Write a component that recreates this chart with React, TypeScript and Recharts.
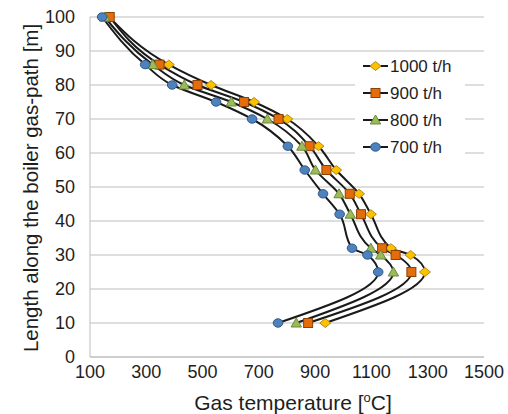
import React from 'react';
import { LineChart, Line, XAxis, YAxis, CartesianGrid, Legend, Label } from 'recharts';

const lengths = [100, 86, 80, 75, 70, 62, 55, 48, 42, 32, 30, 25, 10];
const temp1000 = [168, 380, 530, 683, 801, 912, 975, 1056, 1098, 1169, 1239, 1290, 936];
const temp900 = [170, 347, 482, 647, 770, 880, 940, 1023, 1063, 1138, 1186, 1242, 875];
const temp800 = [152, 323, 435, 602, 730, 853, 901, 985, 1025, 1098, 1133, 1178, 833];
const temp700 = [143, 296, 392, 548, 676, 803, 863, 928, 987, 1031, 1086, 1124, 768];

const xTicks = [100, 300, 500, 700, 900, 1100, 1300, 1500];
const yTicks = [0, 10, 20, 30, 40, 50, 60, 70, 80, 90, 100];

const FONT = '"Liberation Sans", Arial, sans-serif';
const TEXT = '#1e1e1e';
const GRID = '#bdbdbd';
const LINE = '#1a1a1a';

type Shape = 'diamond' | 'square' | 'triangle' | 'circle';

const series: { key: string; name: string; shape: Shape; fill: string; stroke: string }[] = [
  { key: 't1000', name: '1000 t/h', shape: 'diamond', fill: '#FFC000', stroke: '#B08A10' },
  { key: 't900', name: '900 t/h', shape: 'square', fill: '#E46C0A', stroke: '#8A4206' },
  { key: 't800', name: '800 t/h', shape: 'triangle', fill: '#9BBB59', stroke: '#6A8A3A' },
  { key: 't700', name: '700 t/h', shape: 'circle', fill: '#4F81BD', stroke: '#2F5A8E' },
];

const rows = lengths.map((y, i) => ({
  y,
  t1000: temp1000[i],
  t900: temp900[i],
  t800: temp800[i],
  t700: temp700[i],
}));

function Marker({ cx, cy, shape, fill, stroke }: { cx?: number; cy?: number; shape: Shape; fill: string; stroke: string }) {
  if (cx == null || cy == null) return null;
  const common = { fill, stroke, strokeWidth: 1 };
  switch (shape) {
    case 'diamond':
      return <polygon points={`${cx},${cy - 4.5} ${cx + 5.5},${cy} ${cx},${cy + 4.5} ${cx - 5.5},${cy}`} {...common} />;
    case 'square':
      return <rect x={cx - 4.5} y={cy - 4.5} width={9} height={9} {...common} />;
    case 'triangle':
      return <polygon points={`${cx},${cy - 5} ${cx + 5.2},${cy + 4} ${cx - 5.2},${cy + 4}`} {...common} />;
    default:
      return <ellipse cx={cx} cy={cy} rx={4.8} ry={4.2} {...common} />;
  }
}

function LegendBox() {
  return (
    <div style={{ background: '#fff', width: 110, height: 108, fontFamily: FONT }}>
      {series.map((s) => (
        <div key={s.key} style={{ height: 27, display: 'flex', alignItems: 'center', paddingLeft: 8 }}>
          <svg width={25} height={14} style={{ display: 'block' }}>
            <line x1={0} y1={7} x2={25} y2={7} stroke={LINE} strokeWidth={2} />
            <Marker cx={12.5} cy={7} shape={s.shape} fill={s.fill} stroke={s.stroke} />
          </svg>
          <span style={{ marginLeft: 2, fontSize: 17, color: TEXT, lineHeight: '27px', whiteSpace: 'nowrap' }}>{s.name}</span>
        </div>
      ))}
    </div>
  );
}

export default function App() {
  return (
    <div style={{ position: 'absolute', left: 0, top: 0, width: 508, height: 414, background: '#fff' }}>
      <LineChart
        width={508}
        height={414}
        layout="vertical"
        data={rows}
        margin={{ top: 17, right: 24, bottom: 0, left: 0 }}
      >
        <CartesianGrid vertical={false} stroke={GRID} strokeWidth={1} />
        <XAxis
          type="number"
          domain={[100, 1500]}
          ticks={xTicks}
          height={57}
          axisLine={{ stroke: GRID }}
          tickLine={false}
          tickSize={0}
          tickMargin={8}
          tick={{ fill: TEXT, fontSize: 18, fontFamily: FONT }}
          allowDataOverflow
        >
          <Label
            content={() => (
              <text x={293} y={410} textAnchor="middle" fill={TEXT} fontSize={21} fontFamily={FONT}>
                Gas temperature [<tspan fontSize={13} dy={-8}>o</tspan><tspan dy={8}>C]</tspan>
              </text>
            )}
          />
        </XAxis>
        <YAxis
          type="number"
          dataKey="y"
          domain={[0, 100]}
          ticks={yTicks}
          reversed
          width={90}
          axisLine={{ stroke: GRID }}
          tickLine={false}
          tickSize={0}
          tickMargin={15}
          tick={{ fill: TEXT, fontSize: 18, fontFamily: FONT }}
        >
          <Label
            content={() => (
              <text
                x={30}
                y={188}
                transform="rotate(-90, 30, 188)"
                textAnchor="middle"
                dominantBaseline="central"
                fill={TEXT}
                fontSize={20.5}
                fontFamily={FONT}
              >
                Length along the boiler gas-path [m]
              </text>
            )}
          />
        </YAxis>
        <Legend
          layout="vertical"
          align="center"
          verticalAlign="middle"
          content={() => <LegendBox />}
          wrapperStyle={{ position: 'absolute', left: 355, top: 52.5, width: 110, height: 108 }}
        />
        {series.map((s) => (
          <Line
            key={s.key}
            dataKey={s.key}
            name={s.name}
            type="monotone"
            stroke={LINE}
            strokeWidth={2}
            isAnimationActive={false}
            dot={(p: any) => (
              <Marker key={`${s.key}-${p.index}`} cx={p.cx} cy={p.cy} shape={s.shape} fill={s.fill} stroke={s.stroke} />
            )}
            activeDot={false}
          />
        ))}
      </LineChart>
    </div>
  );
}
